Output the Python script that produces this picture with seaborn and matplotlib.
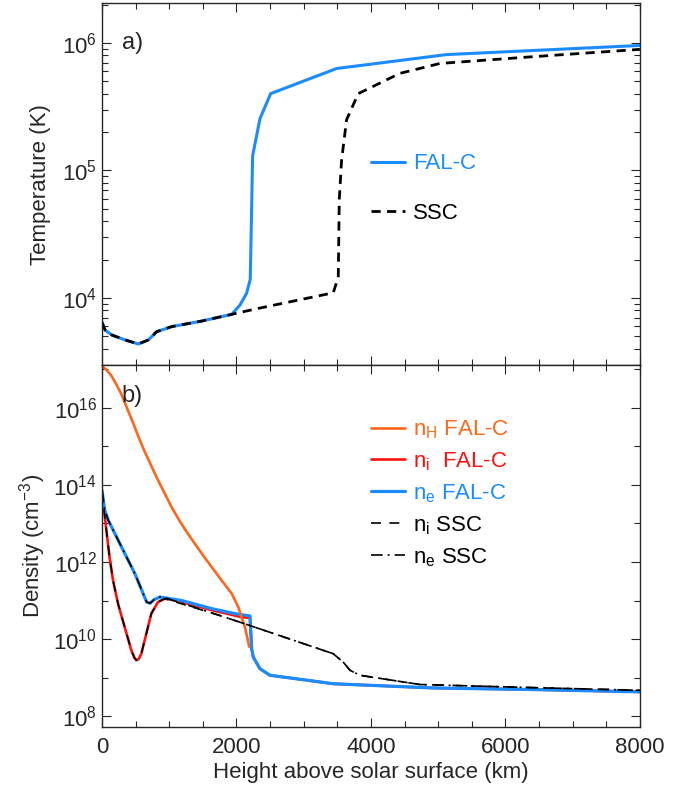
import numpy as np
import matplotlib
matplotlib.use('Agg')
import matplotlib.pyplot as plt
import matplotlib.ticker as ticker
import seaborn as sns

# panel a) temperature (K) vs height (km)
falc_t_km = [0, 45, 144, 342, 540, 689, 813, 1036, 1482, 1929, 2052, 2151, 2205,
             2240, 2349, 2508, 3489, 5125, 8000]
falc_t = [6430, 5600, 5120, 4680, 4350, 4680, 5430, 5950, 6580, 7430, 8790, 10900, 14000,
          1.3e5, 2.54e5, 4.0e5, 6.3e5, 8.1e5, 9.55e5]

ssc_t_km = [0, 45, 144, 342, 540, 689, 813, 1036, 1482, 1929, 2275, 3439, 3514, 3529,
            3563, 3638, 3811, 4431, 5026, 6414, 8000]
ssc_t = [6430, 5600, 5120, 4680, 4350, 4680, 5430, 5950, 6580, 7430, 8170, 10960, 14600, 5.9e4,
         1.2e5, 2.5e5, 4.0e5, 5.77e5, 6.9e5, 7.8e5, 8.9e5]

# panel b) densities, log10(cm^-3)
nh_falc_km = [0, 60, 138, 210, 287, 387, 460, 535, 630, 733, 820, 907, 1036, 1150, 1259, 1383,
              1500, 1631, 1780, 1929, 2027, 2126, 2190]
nh_falc_log = [17.08, 17.00, 16.84, 16.62, 16.36, 15.93, 15.62, 15.28, 14.88, 14.50, 14.17, 13.87,
               13.42, 13.08, 12.78, 12.47, 12.18, 11.87, 11.52, 11.18, 10.83, 10.31, 9.80]

ni_falc_km = [0, 40, 80, 114, 164, 238, 337, 436, 480, 510, 545, 585, 659, 733, 833, 932, 1130,
              1631, 2077, 2201, 2226, 2250, 2349, 2498, 3439, 4926, 6410, 8000]
ni_falc_log = [13.85, 13.20, 12.60, 12.10, 11.52, 10.92, 10.31, 9.71, 9.52, 9.45, 9.48, 9.62,
               10.14, 10.66, 10.96, 11.05, 10.99, 10.75, 10.57, 10.55, 9.75, 9.53, 9.23, 9.06,
               8.84, 8.73, 8.69, 8.63]

ne_falc_km = [0, 40, 94, 293, 491, 664, 714, 780, 862, 1185, 1631, 1978, 2201, 2226, 2250, 2349,
              2498, 3439, 4926, 6410, 8000]
ne_falc_log = [13.85, 13.35, 13.08, 12.38, 11.69, 10.96, 10.93, 11.03, 11.09, 11.00, 10.79, 10.66,
               10.60, 9.75, 9.53, 9.23, 9.06, 8.84, 8.73, 8.69, 8.63]

ni_ssc_km = [0, 40, 80, 114, 164, 238, 337, 436, 480, 510, 545, 585, 659, 733, 833, 932, 1755,
             2201, 3439, 3588, 3688, 3836, 4729, 6410, 8000]
ni_ssc_log = [13.85, 13.20, 12.60, 12.10, 11.52, 10.92, 10.31, 9.71, 9.52, 9.45, 9.48, 9.62,
              10.14, 10.66, 10.96, 11.05, 10.61, 10.35, 9.62, 9.40, 9.19, 9.06, 8.82, 8.74, 8.67]

ne_ssc_km = [0, 40, 94, 293, 491, 664, 714, 780, 862, 937, 1755, 2201, 3439, 3588, 3688, 3836,
             4729, 6410, 8000]
ne_ssc_log = [13.85, 13.35, 13.08, 12.38, 11.69, 10.96, 10.93, 11.03, 11.09, 11.07, 10.61, 10.35,
              9.62, 9.40, 9.19, 9.06, 8.82, 8.74, 8.67]

BLUE = '#1a8cff'
ORANGE = '#ff6619'
RED = '#ff1010'

sns.set_style('ticks')
plt.rcParams['font.family'] = ['Liberation Sans', 'DejaVu Sans']
plt.rcParams['mathtext.fontset'] = 'custom'
plt.rcParams['mathtext.rm'] = 'Liberation Sans'
plt.rcParams['mathtext.it'] = 'Liberation Sans'
plt.rcParams['mathtext.default'] = 'regular'
plt.rcParams['font.size'] = 16
plt.rcParams['axes.linewidth'] = 1.0

fig, (ax1, ax2) = plt.subplots(2, 1, sharex=True, figsize=(6.94, 7.92), dpi=100)
fig.subplots_adjust(left=0.147, right=0.922, top=0.996, bottom=0.082, hspace=0)


def line(ax, x, y, color, lw, ls='-', label=None):
    sns.lineplot(x=x, y=y, ax=ax, color=color, lw=lw, linestyle=ls,
                 sort=False, estimator=None, label=label)
    return ax.get_lines()[-1]


# a) temperature
h_falc = line(ax1, falc_t_km, falc_t, BLUE, 2.2, label='FAL-C')
h_ssc = line(ax1, ssc_t_km, ssc_t, 'black', 2.0, (0, (3.3, 2.3)), label='SSC')
ax1.set_yscale('log')
ax1.set_ylim(2970, 2.05e6)
ax1.set_ylabel('Temperature (K)', labelpad=8)
ax1.text(0.037, 0.89, 'a)', transform=ax1.transAxes, fontsize=17, va='center')
ax1.legend(handles=[h_falc, h_ssc], labels=['FAL-C', 'SSC'], loc='upper left',
           bbox_to_anchor=(0.4995, 0.585), frameon=False, labelcolor='linecolor',
           handlelength=1.55, handletextpad=0.35, labelspacing=1.3,
           borderpad=0, borderaxespad=0, fontsize=16)

# b) densities
h_ni = line(ax2, ni_falc_km, 10 ** np.array(ni_falc_log), RED, 1.9, label='ni')
h_ne = line(ax2, ne_falc_km, 10 ** np.array(ne_falc_log), BLUE, 2.3, label='ne')
h_nh = line(ax2, nh_falc_km, 10 ** np.array(nh_falc_log), ORANGE, 1.9, label='nh')
h_nis = line(ax2, ni_ssc_km, 10 ** np.array(ni_ssc_log), 'black', 1.2, (0, (6, 5)), label='nis')
h_nes = line(ax2, ne_ssc_km, 10 ** np.array(ne_ssc_log), 'black', 1.2, (0, (7, 3, 1.2, 3)), label='nes')
ax2.set_yscale('log')
ax2.set_ylim(5.2e7, 1.29e17)
ax2.yaxis.set_major_locator(ticker.LogLocator(base=100, numticks=20))
ax2.yaxis.set_minor_locator(ticker.LogLocator(base=100, subs=(10,), numticks=20))
ax2.yaxis.set_minor_formatter(ticker.NullFormatter())
ax2.set_ylabel('Density (cm$^{-3}$)')
ax2.set_xlabel('Height above solar surface (km)', labelpad=3)
ax2.text(0.037, 0.915, 'b)', transform=ax2.transAxes, fontsize=17, va='center')
ax2.legend(handles=[h_nh, h_ni, h_ne, h_nis, h_nes],
           labels=['n$_H$ FAL-C', 'n$_i$  FAL-C', 'n$_e$ FAL-C', 'n$_i$ SSC', 'n$_e$ SSC'],
           loc='upper left', bbox_to_anchor=(0.4995, 0.853), frameon=False,
           labelcolor='linecolor', handlelength=1.55, handletextpad=0.35,
           labelspacing=0.42, borderpad=0, borderaxespad=0, fontsize=16)

ax2.set_xlim(0, 8000)
ax2.xaxis.set_major_locator(ticker.MultipleLocator(2000))
ax2.xaxis.set_minor_locator(ticker.MultipleLocator(500))

for ax in (ax1, ax2):
    ax.tick_params(which='both', direction='in', top=True, right=True, width=0.8)
    ax.tick_params(which='major', length=6.5, labelsize=16)
    ax.tick_params(which='minor', length=4)
ax2.tick_params(axis='x', which='major', pad=7)
ax1.tick_params(labelbottom=False)

fig.savefig('out.png', dpi=100)
